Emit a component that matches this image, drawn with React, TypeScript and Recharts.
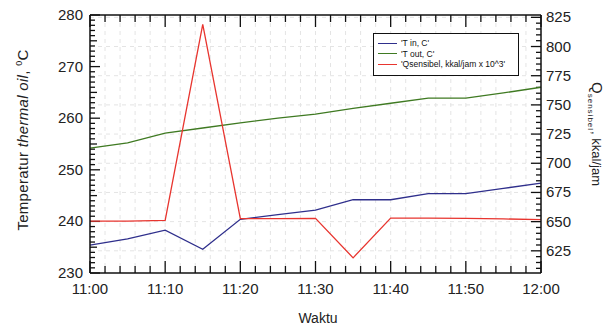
import { CartesianGrid, Line, LineChart, ReferenceLine, XAxis, YAxis } from "recharts";

// minutes after 11:00, one reading every 5 min
const minutes = [0, 5, 10, 15, 20, 25, 30, 35, 40, 45, 50, 55, 60];
const tIn = [235.4, 236.6, 238.3, 234.6, 240.4, 241.3, 242.2, 244.2, 244.2, 245.4, 245.4, 246.4, 247.4];
const tOut = [254.2, 255.2, 257.1, 258.1, 259.1, 260.0, 260.8, 261.9, 262.9, 263.9, 263.9, 264.9, 266.0];
const qSensibel = [650.5, 650.5, 651, 819, 652.5, 652.5, 652.8, 619, 653, 653, 652.8, 652.3, 651.8];

const xTickLabels = ["11:00", "11:10", "11:20", "11:30", "11:40", "11:50", "12:00"];
const leftTickLabels = [230, 240, 250, 260, 270, 280];
const rightTickLabels = [625, 650, 675, 700, 725, 750, 775, 800, 825];

const series = [
  { key: "tIn", name: "'T in, C'", color: "#2f2f8c", axis: "left" },
  { key: "tOut", name: "'T out, C'", color: "#3f7a22", axis: "left" },
  { key: "q", name: "'Qsensibel, kkal/jam x 10^3'", color: "#e8352f", axis: "right" },
];

const data = minutes.map((m, i) => ({
  m,
  tIn: tIn[i],
  tOut: tOut[i],
  q: qSensibel[i],
}));

const range = (a: number, b: number, step: number) => {
  const out: number[] = [];
  for (let v = a; v <= b + 1e-9; v += step) out.push(v);
  return out;
};

const xTicks = range(0, 60, 2);
const leftTicks = range(230, 280, 1);
const rightTicks = range(610, 825, 5);

// plot is 451px wide over 60 min, 258px tall over 50 degC / 221 kkal
const PX_PER_MIN = 451 / 60;
const PX_PER_DEG = 258 / 50;

const FONT = "'Liberation Sans', Arial, sans-serif";

const bottomTick = (props: any) => {
  const { x, y, payload } = props;
  if (payload.value % 10 !== 0) return <g />;
  return (
    <text x={x} y={y + 21} textAnchor="middle" fontSize={15} fill="#222" fontFamily={FONT}>
      {xTickLabels[payload.value / 10]}
    </text>
  );
};

const leftTick = (props: any) => {
  const { x, y, payload } = props;
  const v = Math.round(payload.value);
  if (!leftTickLabels.includes(v)) return <g />;
  return (
    <text x={x - 7} y={y + 5} textAnchor="end" fontSize={15} fill="#222" fontFamily={FONT}>
      {v}
    </text>
  );
};

const rightTick = (props: any) => {
  const { x, y, payload } = props;
  const v = Math.round(payload.value);
  if (!rightTickLabels.includes(v)) return <g />;
  return (
    <text x={x + 5} y={y + 5} textAnchor="start" fontSize={15} fill="#222" fontFamily={FONT}>
      {v}
    </text>
  );
};

const tickProps = { stroke: "#111", strokeWidth: 1.3, ifOverflow: "visible" as const };

export default function App() {
  const axisLine = { stroke: "#111", strokeWidth: 1.5 };
  return (
    <div style={{ position: "absolute", left: 0, top: 0 }}>
      <LineChart width={616} height={329} data={data} margin={{ top: 5, right: 0, bottom: 26, left: 0 }}>
        <CartesianGrid
          yAxisId="right"
          stroke="#e4e4e4"
          strokeDasharray="4 4"
          horizontalValues={range(625, 825, 25)}
          verticalValues={xTicks}
        />
        <XAxis dataKey="m" type="number" domain={[0, 60]} ticks={xTicks} interval={0} height={30}
          tickSize={0} tickMargin={0} tickLine={false} tick={bottomTick} axisLine={axisLine} />
        <XAxis xAxisId="top" orientation="top" dataKey="m" type="number" domain={[0, 60]} ticks={xTicks}
          interval={0} height={10} tickSize={0} tickMargin={0} tickLine={false} tick={false} axisLine={axisLine} />
        <YAxis type="number" domain={[230, 280]} ticks={leftTicks} interval={0} width={90}
          tickSize={0} tickMargin={0} tickLine={false} tick={leftTick} axisLine={axisLine} />
        <YAxis yAxisId="right" orientation="right" type="number" domain={[606, 827]} ticks={rightTicks}
          interval={0} width={75} tickSize={0} tickMargin={0} tickLine={false} tick={rightTick} axisLine={axisLine} />

        {/* inward tick marks, bottom and top */}
        {xTicks.map((v) => {
          const d = (v % 10 === 0 ? 12 : 7) / PX_PER_DEG;
          return [
            <ReferenceLine key={`b${v}`} segment={[{ x: v, y: 230 }, { x: v, y: 230 + d }]} {...tickProps} />,
            <ReferenceLine key={`t${v}`} segment={[{ x: v, y: 280 }, { x: v, y: 280 - d }]} {...tickProps} />,
          ];
        })}
        {/* inward tick marks, left */}
        {leftTicks.map((v) => {
          const len = v % 10 === 0 ? 10 : v % 5 === 0 ? 7 : 5;
          return (
            <ReferenceLine key={`l${v}`} segment={[{ x: 0, y: v }, { x: len / PX_PER_MIN, y: v }]} {...tickProps} />
          );
        })}
        {/* inward tick marks, right */}
        {rightTicks.map((v) => {
          const len = rightTickLabels.includes(v) ? 10 : 5;
          return (
            <ReferenceLine key={`r${v}`} yAxisId="right" segment={[{ x: 60, y: v }, { x: 60 - len / PX_PER_MIN, y: v }]} {...tickProps} />
          );
        })}

        {series.map((s) => (
          <Line
            key={s.key}
            name={s.name}
            dataKey={s.key}
            yAxisId={s.axis === "right" ? "right" : 0}
            stroke={s.color}
            strokeWidth={1.3}
            dot={false}
            isAnimationActive={false}
          />
        ))}
      </LineChart>
      {/* legend box, top right of the plot */}
      <div
        style={{
          position: "absolute",
          left: 373,
          top: 33,
          width: 134,
          border: "1px solid #111",
          background: "#fff",
          padding: "4px 6px 5px 4px",
          fontFamily: FONT,
          fontSize: 8.5,
          color: "#111",
        }}
      >
        {series.map((s) => (
          <div key={s.key} style={{ display: "flex", alignItems: "center", height: 10.5 }}>
            <span style={{ display: "inline-block", width: 19, height: 0, borderTop: `1.5px solid ${s.color}`, marginRight: 4 }} />
            <span>{s.name}</span>
          </div>
        ))}
      </div>
      <div
        style={{
          position: "absolute",
          left: 22,
          top: 140,
          transform: "translate(-50%, -50%) rotate(-90deg)",
          whiteSpace: "nowrap",
          fontFamily: FONT,
          fontSize: 15,
          letterSpacing: 0.3,
          color: "#222",
        }}
      >
        Temperatur <i>thermal oil</i>, <sup style={{ fontSize: 9 }}>0</sup>C
      </div>
      <div
        style={{
          position: "absolute",
          left: 596,
          top: 134,
          transform: "translate(-50%, -50%) rotate(90deg)",
          whiteSpace: "nowrap",
          fontFamily: FONT,
          fontSize: 13,
          color: "#222",
        }}
      >
        <span style={{ fontSize: 15 }}>Q</span>
        <sub style={{ fontSize: 8, letterSpacing: 1 }}>sensibel</sub>, kkal/jam
      </div>
      <div
        style={{
          position: "absolute",
          left: 318,
          top: 318,
          transform: "translate(-50%, -50%)",
          fontFamily: FONT,
          fontSize: 14,
          color: "#222",
        }}
      >
        Waktu
      </div>
    </div>
  );
}
